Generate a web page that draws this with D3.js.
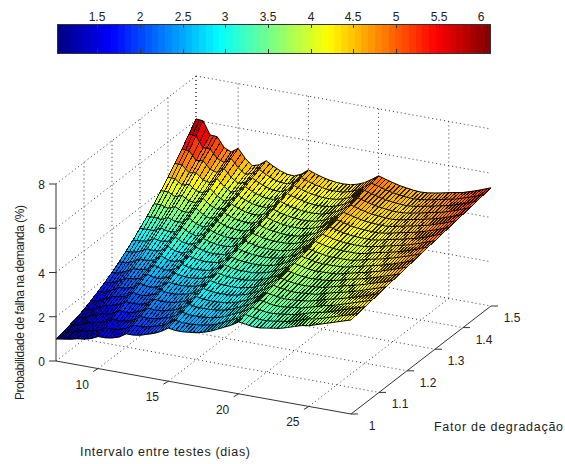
<!DOCTYPE html>
<html lang="en">
<head>
<meta charset="UTF-8">
<title></title>
<style>
    html, body { margin: 0; padding: 0; background: #fff; }
    svg { display: block; }
    text { font-family: "Liberation Sans", sans-serif; font-size: 12px; fill: #222; }
    .grid { fill: none; stroke: #333; stroke-width: 1; stroke-dasharray: 1 3; }
    .axis { fill: none; stroke: #333; stroke-width: 1; }
</style>
</head>
<body>
<svg id="chart" width="565" height="464"></svg>
<script src="https://cdn.jsdelivr.net/npm/d3@7"></script>
<script>

var xValues = [7,7.5,8,8.5,9,9.5,10,10.5,11,11.5,12,12.5,13,13.5,14,14.5,15,15.5,16,16.5,17,17.5,18,18.5,19,19.5,20,20.5,21,21.5,22,22.5,23,23.5,24,24.5,25,25.5,26,26.5,27,27.5,28];
var yValues = [1,1.025,1.05,1.075,1.1,1.125,1.15,1.175,1.2,1.225,1.25,1.275,1.3,1.325,1.35,1.375,1.4,1.425,1.45,1.475,1.5];

// one row per yValues entry, one column per xValues entry
var zRows = [
[1.00,1.05,1.10,1.18,1.22,1.30,1.45,1.45,1.50,1.60,1.80,1.80,1.85,1.95,2.05,2.20,2.40,2.35,2.35,2.38,2.42,2.50,2.60,2.75,2.90,3.05,3.25,3.20,3.15,3.15,3.20,3.25,3.30,3.40,3.50,3.60,3.65,3.75,3.85,3.95,4.05,4.15,4.25],
[1.06,1.11,1.20,1.29,1.35,1.43,1.60,1.59,1.64,1.75,1.95,1.94,1.98,2.07,2.16,2.31,2.51,2.46,2.46,2.48,2.52,2.59,2.69,2.83,2.98,3.14,3.34,3.28,3.23,3.23,3.27,3.32,3.36,3.46,3.56,3.66,3.71,3.80,3.90,4.00,4.10,4.20,4.30],
[1.15,1.19,1.31,1.43,1.48,1.57,1.74,1.72,1.77,1.88,2.09,2.08,2.11,2.19,2.27,2.42,2.63,2.57,2.56,2.58,2.61,2.68,2.77,2.92,3.07,3.22,3.42,3.37,3.31,3.31,3.35,3.39,3.43,3.52,3.62,3.71,3.76,3.86,3.96,4.06,4.16,4.26,4.36],
[1.24,1.29,1.42,1.56,1.62,1.70,1.90,1.86,1.91,2.03,2.24,2.21,2.23,2.30,2.38,2.53,2.74,2.68,2.67,2.68,2.71,2.77,2.86,3.00,3.15,3.31,3.51,3.45,3.39,3.38,3.42,3.45,3.49,3.58,3.67,3.77,3.82,3.91,4.01,4.11,4.21,4.31,4.41],
[1.36,1.41,1.55,1.70,1.76,1.85,2.05,2.02,2.04,2.16,2.39,2.35,2.36,2.42,2.50,2.64,2.85,2.79,2.77,2.78,2.80,2.86,2.95,3.08,3.23,3.39,3.59,3.53,3.48,3.46,3.49,3.52,3.56,3.64,3.73,3.82,3.88,3.97,4.06,4.16,4.26,4.36,4.47],
[1.51,1.55,1.70,1.87,1.91,2.00,2.22,2.16,2.19,2.31,2.54,2.49,2.49,2.54,2.61,2.76,2.97,2.90,2.88,2.88,2.90,2.96,3.04,3.17,3.32,3.48,3.68,3.62,3.56,3.54,3.57,3.59,3.62,3.70,3.79,3.88,3.94,4.03,4.11,4.22,4.32,4.42,4.53],
[1.68,1.70,1.86,2.03,2.06,2.16,2.39,2.31,2.32,2.45,2.68,2.63,2.62,2.66,2.72,2.87,3.08,3.01,2.99,2.98,2.99,3.05,3.12,3.25,3.40,3.56,3.77,3.70,3.64,3.62,3.63,3.66,3.68,3.76,3.85,3.93,4.00,4.08,4.17,4.27,4.37,4.47,4.58],
[1.86,1.88,2.03,2.21,2.23,2.31,2.56,2.46,2.47,2.59,2.83,2.76,2.74,2.77,2.83,2.98,3.19,3.12,3.09,3.08,3.09,3.14,3.21,3.33,3.48,3.65,3.85,3.78,3.72,3.69,3.71,3.72,3.75,3.82,3.90,3.99,4.05,4.13,4.22,4.32,4.42,4.52,4.63],
[2.05,2.08,2.21,2.39,2.40,2.48,2.73,2.62,2.60,2.73,2.98,2.90,2.87,2.89,2.94,3.09,3.31,3.23,3.19,3.18,3.18,3.23,3.30,3.42,3.56,3.73,3.94,3.87,3.80,3.77,3.78,3.79,3.81,3.88,3.96,4.04,4.10,4.19,4.27,4.37,4.47,4.58,4.69],
[2.28,2.30,2.41,2.59,2.58,2.65,2.90,2.77,2.75,2.88,3.12,3.04,3.00,3.01,3.05,3.20,3.42,3.34,3.30,3.28,3.28,3.32,3.38,3.50,3.64,3.82,4.02,3.95,3.88,3.85,3.85,3.86,3.88,3.94,4.02,4.10,4.16,4.24,4.32,4.42,4.52,4.63,4.74],
[2.52,2.54,2.63,2.80,2.77,2.83,3.08,2.94,2.89,3.02,3.27,3.18,3.13,3.13,3.17,3.31,3.54,3.45,3.40,3.38,3.38,3.41,3.47,3.59,3.73,3.90,4.11,4.04,3.97,3.93,3.93,3.93,3.94,4.00,4.08,4.16,4.22,4.30,4.38,4.48,4.58,4.69,4.80],
[2.78,2.80,2.85,3.02,2.96,3.01,3.26,3.10,3.04,3.17,3.42,3.32,3.26,3.25,3.28,3.42,3.65,3.56,3.50,3.48,3.48,3.50,3.56,3.67,3.81,3.99,4.20,4.12,4.05,4.01,4.00,4.00,4.00,4.06,4.14,4.22,4.28,4.35,4.43,4.53,4.63,4.75,4.86],
[3.07,3.08,3.08,3.25,3.16,3.19,3.45,3.27,3.18,3.31,3.56,3.45,3.38,3.36,3.39,3.53,3.76,3.67,3.61,3.58,3.57,3.59,3.64,3.75,3.89,4.07,4.28,4.20,4.13,4.08,4.07,4.06,4.07,4.12,4.19,4.27,4.33,4.41,4.48,4.58,4.68,4.80,4.90],
[3.37,3.38,3.34,3.48,3.37,3.38,3.64,3.43,3.34,3.46,3.71,3.59,3.51,3.48,3.50,3.64,3.88,3.78,3.72,3.68,3.66,3.68,3.73,3.84,3.97,4.16,4.37,4.29,4.21,4.16,4.14,4.13,4.13,4.18,4.25,4.32,4.38,4.46,4.53,4.63,4.73,4.85,4.96],
[3.69,3.70,3.60,3.73,3.58,3.58,3.83,3.60,3.48,3.61,3.86,3.73,3.63,3.60,3.61,3.75,3.99,3.89,3.82,3.78,3.76,3.77,3.82,3.92,4.06,4.24,4.45,4.37,4.29,4.24,4.22,4.20,4.20,4.24,4.31,4.38,4.44,4.51,4.59,4.69,4.79,4.90,5.01],
[4.04,4.04,3.88,3.99,3.80,3.78,4.03,3.78,3.64,3.76,4.01,3.87,3.77,3.72,3.73,3.87,4.11,4.00,3.93,3.88,3.86,3.87,3.91,4.01,4.14,4.33,4.54,4.46,4.38,4.32,4.29,4.27,4.26,4.30,4.37,4.44,4.50,4.57,4.64,4.74,4.84,4.96,5.07],
[4.40,4.39,4.16,4.25,4.02,3.98,4.23,3.96,3.78,3.90,4.15,4.00,3.89,3.83,3.83,3.97,4.22,4.11,4.03,3.98,3.95,3.96,3.99,4.09,4.22,4.41,4.63,4.54,4.46,4.39,4.36,4.33,4.32,4.36,4.42,4.49,4.55,4.62,4.69,4.79,4.89,5.00,5.12],
[4.78,4.77,4.47,4.53,4.26,4.19,4.44,4.13,3.94,4.06,4.30,4.14,4.02,3.95,3.95,4.09,4.33,4.22,4.14,4.08,4.04,4.05,4.08,4.17,4.30,4.50,4.71,4.62,4.54,4.47,4.43,4.40,4.39,4.42,4.48,4.54,4.61,4.68,4.74,4.84,4.94,5.06,5.18],
[5.19,5.17,4.79,4.83,4.50,4.41,4.64,4.31,4.09,4.20,4.45,4.28,4.15,4.07,4.06,4.20,4.44,4.33,4.24,4.18,4.14,4.14,4.17,4.25,4.38,4.58,4.80,4.70,4.62,4.55,4.50,4.47,4.45,4.48,4.54,4.60,4.67,4.73,4.80,4.90,5.00,5.11,5.23],
[5.62,5.59,5.11,5.12,4.75,4.62,4.86,4.50,4.25,4.36,4.59,4.41,4.27,4.18,4.17,4.31,4.56,4.44,4.35,4.28,4.23,4.23,4.25,4.34,4.47,4.67,4.88,4.79,4.70,4.62,4.58,4.53,4.52,4.54,4.59,4.65,4.72,4.79,4.85,4.95,5.05,5.17,5.29],
[6.06,6.03,5.45,5.43,5.00,4.85,5.07,4.68,4.40,4.50,4.74,4.55,4.40,4.30,4.28,4.42,4.67,4.55,4.45,4.38,4.33,4.32,4.34,4.42,4.55,4.75,4.97,4.87,4.78,4.70,4.65,4.60,4.58,4.60,4.65,4.71,4.78,4.84,4.90,5.00,5.10,5.22,5.34]
];

var xTicks = [10,15,20,25];
var yTicks = [1,1.1,1.2,1.3,1.4,1.5];
var zTicks = [0,2,4,6,8];
var barTicks = [1.5,2,2.5,3,3.5,4,4.5,5,5.5,6];

var svg = d3.select("#chart");

// oblique projection: every data axis adds its own screen offset
var xToX = d3.scaleLinear().domain([7,28]).range([56,351]);
var xToY = d3.scaleLinear().domain([7,28]).range([361,414]);
var yToX = d3.scaleLinear().domain([1,1.5]).range([0,140]);
var yToY = d3.scaleLinear().domain([1,1.5]).range([0,-108]);
var zToY = d3.scaleLinear().domain([0,8]).range([0,-177]);

function project(x, y, z) {
    return [xToX(x) + yToX(y), xToY(x) + yToY(y) + zToY(z)];
}

var line = d3.line();

// jet colormap in 64 steps, like the colour bar
var jet = d3.scaleLinear()
    .domain([0,0.125,0.375,0.625,0.875,1])
    .range(["#000080","#0000ff","#00ffff","#ffff00","#ff0000","#800000"]);
var cmin = 1.03, cmax = 6.1;
var level = d3.scaleQuantize().domain([cmin,cmax]).range(d3.range(64));
function colour(z) {
    return jet((level(z) + 0.5) / 64);
}

// colour bar
var barX = d3.scaleLinear().domain([cmin,cmax]).range([57,490]);
var bar = svg.append("g");
d3.range(64).forEach(function (i) {
    var v0 = cmin + (cmax - cmin) * i / 64;
    var v1 = cmin + (cmax - cmin) * (i + 1) / 64;
    bar.append("rect")
        .attr("x", barX(v0)).attr("y", 24)
        .attr("width", barX(v1) - barX(v0) + 0.5).attr("height", 29)
        .attr("fill", jet((i + 0.5) / 64))
        .attr("shape-rendering", "crispEdges");
});
bar.append("rect").attr("class", "axis")
    .attr("x", 57).attr("y", 24).attr("width", 433).attr("height", 29)
    .attr("shape-rendering", "crispEdges");
barTicks.forEach(function (t) {
    var px = Math.round(barX(t));
    bar.append("path").attr("class", "axis").attr("shape-rendering", "crispEdges")
        .attr("d", "M" + px + ",24V28M" + px + ",53V49");
    bar.append("text").attr("x", px).attr("y", 21).attr("text-anchor", "middle").text(t);
});

// dotted grid on the floor and on the two walls
var grid = svg.append("g");
function gridLine(a, b) {
    grid.append("path").attr("class", "grid").attr("d", line([a, b]));
}
[7].concat(xTicks).forEach(function (x) {
    gridLine(project(x,1,0), project(x,1.5,0));
    gridLine(project(x,1.5,0), project(x,1.5,8));
});
yTicks.slice(1).forEach(function (y) {
    gridLine(project(7,y,0), project(28,y,0));
    gridLine(project(7,y,0), project(7,y,8));
});
zTicks.slice(1).forEach(function (z) {
    gridLine(project(7,1,z), project(7,1.5,z));
    gridLine(project(7,1.5,z), project(28,1.5,z));
});

// surface, painted from the back row to the front
var surf = svg.append("g");
for (var j = yValues.length - 2; j >= 0; j--) {
    for (var i = 0; i < xValues.length - 1; i++) {
        var a = project(xValues[i], yValues[j], zRows[j][i]);
        var b = project(xValues[i+1], yValues[j], zRows[j][i+1]);
        var c = project(xValues[i+1], yValues[j+1], zRows[j+1][i+1]);
        var d = project(xValues[i], yValues[j+1], zRows[j+1][i]);
        var col = colour((zRows[j][i] + zRows[j][i+1] + zRows[j+1][i+1] + zRows[j+1][i]) / 4);
        surf.append("path")
            .attr("d", line([a,b,c,d]) + "Z")
            .attr("fill", col).attr("stroke", col).attr("stroke-width", 0.6);
        // hatch of column lines, one on the data column and one half way
        var mid0 = [(a[0]+b[0])/2, (a[1]+b[1])/2];
        var mid1 = [(c[0]+d[0])/2, (c[1]+d[1])/2];
        surf.append("path")
            .attr("d", line([a,d]) + line([mid0,mid1]) + (i == xValues.length - 2 ? line([b,c]) : ""))
            .attr("fill", "none").attr("stroke", "#000").attr("stroke-width", 1)
            .attr("shape-rendering", "crispEdges").attr("opacity", 0.85);
        // solid row lines
        surf.append("path")
            .attr("d", line([d,c]) + (j == 0 ? line([a,b]) : ""))
            .attr("fill", "none").attr("stroke", "#000").attr("stroke-width", 1);
    }
}

// axes
var axes = svg.append("g");
axes.append("path").attr("class", "axis").attr("d", line([project(7,1,8), project(7,1,0), project(28,1,0), project(28,1.5,0)]));
zTicks.forEach(function (z) {
    var p = project(7,1,z);
    axes.append("path").attr("class", "axis").attr("d", line([p, [p[0]-7, p[1]]]));
    axes.append("text").attr("x", p[0]-11).attr("y", p[1]+5).attr("text-anchor", "end").text(z);
});
xTicks.forEach(function (x) {
    var p = project(x,1,0);
    axes.append("path").attr("class", "axis").attr("d", line([p, [p[0]-5, p[1]+3]]));
    axes.append("text").attr("x", p[0]-16).attr("y", p[1]+20).attr("text-anchor", "middle").text(x);
});
yTicks.forEach(function (y) {
    var p = project(28,y,0);
    axes.append("path").attr("class", "axis").attr("d", line([p, [p[0]+7, p[1]]]));
    axes.append("text").attr("x", p[0]+21).attr("y", p[1]+16).attr("text-anchor", "middle").text(y);
});

// axis titles
svg.append("text").attr("x", 80).attr("y", 456).style("font-size", "12.5px").attr("textLength", 170).attr("lengthAdjust", "spacing").text("Intervalo entre testes (dias)");
svg.append("text").attr("x", 434).attr("y", 431).style("font-size", "12.5px").attr("textLength", 129).attr("lengthAdjust", "spacing").text("Fator de degradação");
svg.append("text").attr("transform", "translate(24,400) rotate(-90)").attr("textLength", 195).attr("lengthAdjust", "spacing").text("Probabilidade de falha na demanda (%)");

</script>
</body>
</html>
